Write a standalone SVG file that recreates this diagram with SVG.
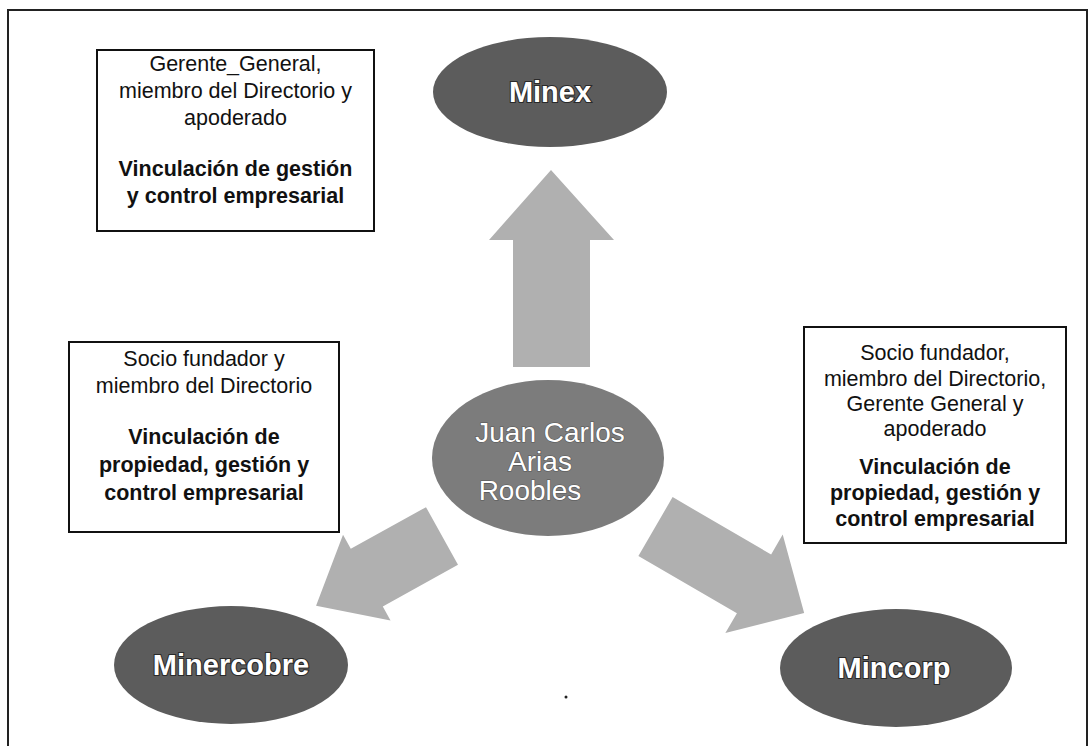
<svg xmlns="http://www.w3.org/2000/svg" width="1090" height="746" viewBox="0 0 1090 746">
<defs>
<style>
.box{fill:#fff;stroke:#111;stroke-width:2}
.t{font-family:"Liberation Sans",Arial,sans-serif;font-size:21.5px;fill:#111;text-anchor:middle}
.b{font-weight:bold}
.ell{fill:#5c5c5c}
.ellc{fill:#7c7c7c}
.lab{font-family:"Liberation Sans",Arial,sans-serif;font-size:29px;font-weight:bold;fill:#fff;stroke:#2a2a2a;stroke-width:2.2;paint-order:stroke;text-anchor:middle}
.labc{font-family:"Liberation Sans",Arial,sans-serif;font-size:28px;fill:#fff;stroke:#555;stroke-width:1.2;paint-order:stroke;text-anchor:middle}
.arr{fill:#b0b0b0}
</style>
</defs>
<rect width="1090" height="746" fill="#fff"/>
<path d="M8 746 V10 H1087 V746" fill="none" stroke="#222" stroke-width="2"/>

<g id="connectors">
<polygon class="arr" points="513,367 590,367 590,240 614,240 551,170 489,240 513,240"/>
<polygon class="arr" transform="translate(442 536) rotate(151)" points="0,-33 86,-33 86,-49 144,0 86,49 86,33 0,33"/>
<polygon class="arr" transform="translate(655.5 526.5) rotate(30.2)" points="0,-34 114,-34 114,-57 172,0 114,57 114,34 0,34"/>
</g>

<g id="minex">
<ellipse class="ell" cx="550" cy="92" rx="117" ry="55"/>
<text class="lab" x="550" y="102">Minex</text>
</g>

<g id="juan">
<ellipse class="ellc" cx="548" cy="458" rx="116" ry="78"/>
<text class="labc" x="550" y="442">Juan Carlos</text>
<text class="labc" x="540" y="471">Arias</text>
<text class="labc" x="530" y="500">Roobles</text>
</g>

<g id="minercobre">
<ellipse class="ell" cx="231" cy="665" rx="117" ry="59"/>
<text class="lab" x="231" y="675">Minercobre</text>
</g>

<g id="mincorp">
<ellipse class="ell" cx="896" cy="668" rx="116" ry="59"/>
<text class="lab" x="894" y="678">Mincorp</text>
</g>

<g id="box-minex">
<rect class="box" x="97" y="50" width="277" height="181"/>
<text class="t" x="235.5" y="71">Gerente_General,</text>
<text class="t" x="235.5" y="98">miembro del Directorio y</text>
<text class="t" x="235.5" y="125">apoderado</text>
<text class="t b" x="235.5" y="176">Vinculación de gestión</text>
<text class="t b" x="235.5" y="203">y control empresarial</text>
</g>

<g id="box-minercobre">
<rect class="box" x="69" y="342" width="270" height="190"/>
<text class="t" x="204" y="366">Socio fundador y</text>
<text class="t" x="204" y="393">miembro del Directorio</text>
<text class="t b" x="204" y="444">Vinculación de</text>
<text class="t b" x="204" y="472">propiedad, gestión y</text>
<text class="t b" x="204" y="500">control empresarial</text>
</g>

<g id="box-mincorp">
<rect class="box" x="804" y="327" width="262" height="216"/>
<text class="t" x="935" y="360">Socio fundador,</text>
<text class="t" x="935" y="386">miembro del Directorio,</text>
<text class="t" x="935" y="411">Gerente General y</text>
<text class="t" x="935" y="436">apoderado</text>
<text class="t b" x="935" y="474">Vinculación de</text>
<text class="t b" x="935" y="500">propiedad, gestión y</text>
<text class="t b" x="935" y="526">control empresarial</text>
</g>
<circle cx="566" cy="697" r="1.5" fill="#222"/>
</svg>
